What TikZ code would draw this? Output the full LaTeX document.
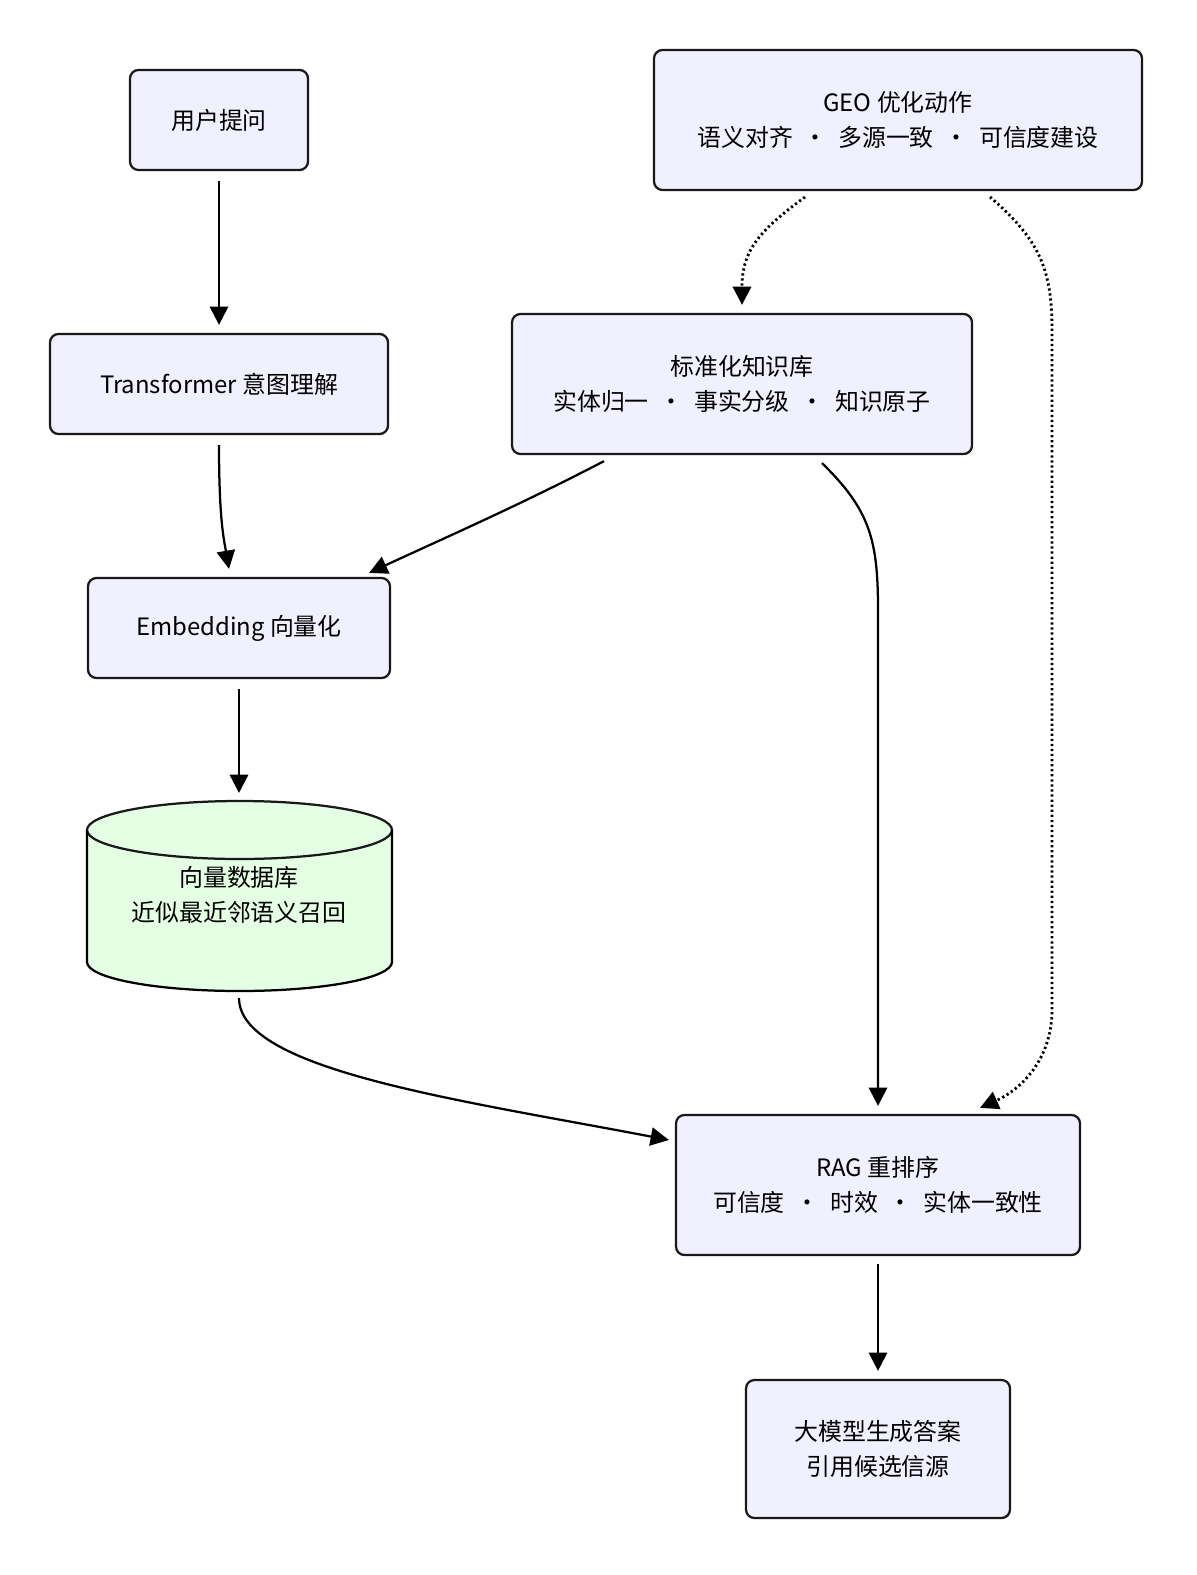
\documentclass[tikz,border=0pt]{standalone}
\usepackage{fontspec}
\setmainfont{Noto Sans CJK SC}
\usetikzlibrary{arrows.meta,positioning,calc}
\tikzset{
  box/.style={draw=black!90,line width=1.6pt,rounded corners=6pt,fill=blue!6,
    align=center,font=\fontsize{17}{25}\selectfont},
  flow/.style={-{Triangle[length=13pt,width=13pt]},line width=1.6pt},
  hint/.style={flow,dotted,line width=2pt}
}
\begin{document}
\begin{tikzpicture}[x=0.025cm,y=-0.025cm]
  \useasboundingbox[fill=white] (0,0) rectangle (1196,1575);
  % left column
  \node[box,minimum width=178*0.025cm,minimum height=100*0.025cm] (ask) at (219,120) {用户提问};
  \node[box,minimum width=338*0.025cm,minimum height=100*0.025cm] (tf) at (219,384) {Transformer 意图理解};
  \node[box,minimum width=302*0.025cm,minimum height=100*0.025cm] (emb) at (239,628) {Embedding 向量化};
  % vector database
  \fill[green!10] (87,830) -- (87,962) arc[start angle=180,end angle=360,x radius=152.5,y radius=-29]
    -- (392,830) arc[start angle=0,end angle=180,x radius=152.5,y radius=29] -- cycle;
  \fill[green!10,draw=black!90,line width=1.6pt] (239.5,830) ellipse[x radius=152.5,y radius=29];
  \draw[line width=1.6pt] (87,830) -- (87,962) arc[start angle=180,end angle=360,x radius=152.5,y radius=-29] -- (392,830);
  \node[align=center,font=\fontsize{17}{25}\selectfont,minimum width=305*0.025cm,minimum height=190*0.025cm] (vdb) at (239,895) {向量数据库\\近似最近邻语义召回};
  % right column
  \node[box,minimum width=488*0.025cm,minimum height=140*0.025cm] (geo) at (898,120) {GEO 优化动作\\语义对齐 \ · \ 多源一致 \ · \ 可信度建设};
  \node[box,minimum width=460*0.025cm,minimum height=140*0.025cm] (kb) at (742,384) {标准化知识库\\实体归一 \ · \ 事实分级 \ · \ 知识原子};
  \node[box,minimum width=404*0.025cm,minimum height=140*0.025cm] (rag) at (878,1185) {RAG 重排序\\可信度 \ · \ 时效 \ · \ 实体一致性};
  \node[box,minimum width=264*0.025cm,minimum height=138*0.025cm] (llm) at (878,1449) {大模型生成答案\\引用候选信源};
  % connectors
  \draw[flow] ($(ask.south)+(0,10)$) -- ($(tf.north)+(0,-8)$);
  \draw[flow] ($(tf.south)+(0,10)$) .. controls (219,520) and (224,540) .. ($(emb.north)+(-10,-8)$);
  \draw[flow] ($(emb.south)+(0,10)$) -- (239,793);
  \draw[flow] ($(kb.south)+(-138,6)$) .. controls (520,505) and (440,540) .. ($(emb.north east)+(-22,-4)$);
  \draw[flow] ($(kb.south)+(80,8)$) .. controls (870,510) and (878,540) .. (878,610) -- ($(rag.north)+(0,-8)$);
  \draw[flow] (239,998) .. controls (239,1070) and (460,1100) .. ($(rag.west)+(-6,-45)$);
  \draw[flow] ($(rag.south)+(0,8)$) -- ($(llm.north)+(0,-8)$);
  \draw[hint] (805,197) .. controls (760,230) and (742,250) .. ($(kb.north)+(0,-8)$);
  \draw[hint] (990,197) .. controls (1040,240) and (1052,270) .. (1052,330) -- (1052,1010)
    .. controls (1052,1060) and (1020,1090) .. ($(rag.north)+(102,-6)$);
\end{tikzpicture}
\end{document}
